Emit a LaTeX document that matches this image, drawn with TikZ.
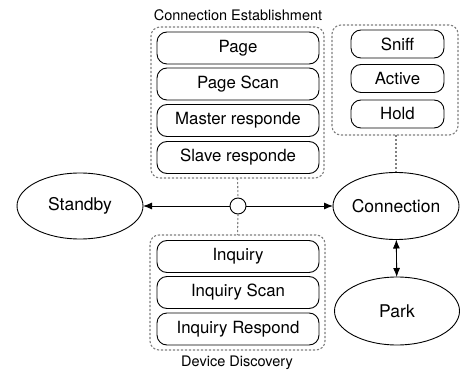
\documentclass[tikz,border=0pt]{standalone}
\usepackage{fontspec}
\setmainfont{TeX Gyre Heros}
\usetikzlibrary{shapes.geometric,arrows.meta}
\begin{document}
\begin{tikzpicture}[x=1pt,y=-1pt,
  every node/.style={inner sep=0pt,outer sep=0pt},
  inbox/.style={draw,line width=0.9pt,rounded corners=10pt,minimum width=162pt,minimum height=32pt,font=\fontsize{16.8}{19}\selectfont},
  smbox/.style={draw,line width=0.9pt,rounded corners=10pt,minimum width=93pt,minimum height=28pt,font=\fontsize{16.8}{19}\selectfont},
  group/.style={draw=gray,line width=1.1pt,dash pattern=on 2.2pt off 1.8pt,rounded corners=9pt},
  state/.style={draw,ellipse,line width=0.9pt,font=\fontsize{17.5}{20}\selectfont},
  lbl/.style={font=\fontsize{14.5}{17}\selectfont},
  dlink/.style={draw=gray,line width=1.1pt,dash pattern=on 2.2pt off 1.8pt},
  arr/.style={line width=0.9pt,-{Latex[length=9pt,width=7pt]}}
]
\useasboundingbox (0,0) rectangle (462,371);
% Connection Establishment group
\node[group,minimum width=173pt,minimum height=151pt] (ce) at (237.5,102.5) {};
\node[lbl] (celbl) at (238,15) {Connection Establishment};
\node[inbox] (page) at (238,48) {Page};
\node[inbox] (pscan) at (238,84) {Page Scan};
\node[inbox] (mresp) at (238,120.5) {Master responde};
\node[inbox] (sresp) at (238,157.5) {Slave responde};
% Connection states group
\node[group,minimum width=126pt,minimum height=110pt] (cs) at (395,80) {};
\node[smbox] (sniff) at (397.5,44) {Sniff};
\node[smbox] (active) at (397.5,78.5) {Active};
\node[smbox] (hold) at (397.5,114) {Hold};
% Device Discovery group
\node[group,minimum width=175pt,minimum height=115pt] (dd) at (237.5,292.5) {};
\node[inbox] (inq) at (238,256.5) {Inquiry};
\node[inbox] (iscan) at (238,292.5) {Inquiry Scan};
\node[inbox] (iresp) at (238,329) {Inquiry Respond};
\node[lbl] (ddlbl) at (237,363) {Device Discovery};
% states
\node[draw,circle,line width=0.9pt,minimum size=16pt,fill=white] (hub) at (238,206) {};
\node[state,minimum width=126pt,minimum height=66pt] (standby) at (80,206) {Standby};
\node[state,minimum width=126pt,minimum height=67pt] (conn) at (396,206) {Connection};
\node[state,minimum width=125pt,minimum height=68pt] (park) at (397,311) {Park};
% connectors
\draw[arr] (hub) -- (standby);
\draw[arr] (hub) -- (conn);
\draw[dlink] (ce.south) -- (hub.north);
\draw[dlink] (hub.south) -- (dd.north);
\draw[dlink] (conn.north |- cs.south) -- (conn.north);
\draw[line width=0.9pt,{Latex[length=9pt,width=7pt]}-{Latex[length=9pt,width=7pt]}] (conn) -- (park);
\end{tikzpicture}
\end{document}
